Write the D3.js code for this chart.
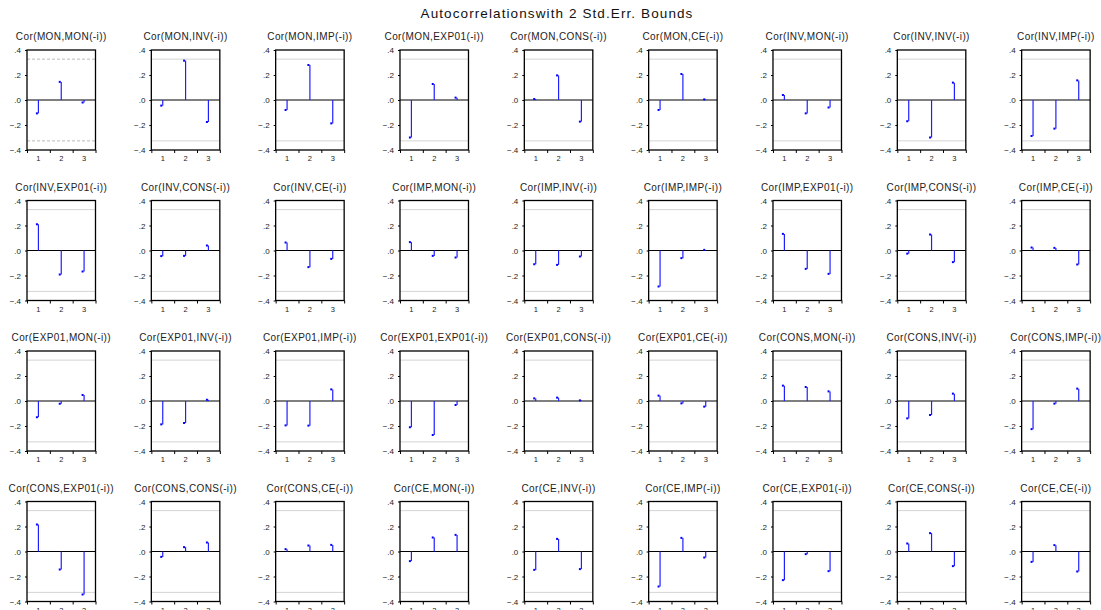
<!DOCTYPE html>
<html><head><meta charset="utf-8">
<script src="https://cdn.jsdelivr.net/npm/d3@7"></script>
<style>body{margin:0;background:#fff}svg{display:block}text{font-family:"Liberation Sans",Arial,sans-serif}</style>
</head><body><svg id="c" width="1101" height="610"></svg>
<script>
const variables = ["MON","INV","IMP","EXP01","CONS","CE"];
const lags = [1,2,3];
const yTicks = [0.4,0.2,0,-0.2,-0.4];
const bound = 0.327;
// correlations Cor(row, col(-i)) for lags 1..3
const corMON   = [[-0.107,0.145,-0.020],[-0.045,0.315,-0.176],[-0.080,0.280,-0.187],[-0.300,0.128,0.019],[0.008,0.197,-0.173],[-0.080,0.208,0.005]];
const corINV   = [[0.040,-0.107,-0.060],[-0.170,-0.300,0.139],[-0.288,-0.229,0.157],[0.210,-0.192,-0.168],[-0.045,-0.043,0.040],[0.064,-0.133,-0.067]];
const corIMP   = [[0.067,-0.043,-0.056],[-0.110,-0.115,-0.048],[-0.288,-0.061,0.005],[0.133,-0.147,-0.187],[-0.025,0.128,-0.093],[0.024,0.021,-0.112]];
const corEXP01 = [[-0.130,-0.022,0.048],[-0.187,-0.176,0.010],[-0.195,-0.197,0.093],[-0.210,-0.272,-0.032],[0.021,0.027,0.005],[0.043,-0.019,-0.045]];
const corCONS  = [[0.123,0.112,0.077],[-0.139,-0.112,0.059],[-0.225,-0.021,0.099],[0.216,-0.144,-0.344],[-0.043,0.035,0.072],[0.019,0.048,0.053]];
const corCE    = [[-0.077,0.112,0.133],[-0.147,0.101,-0.141],[-0.280,0.109,-0.048],[-0.229,-0.021,-0.157],[0.064,0.147,-0.117],[-0.083,0.051,-0.160]];
const corAll = [corMON,corINV,corIMP,corEXP01,corCONS,corCE];

const svg = d3.select("#c");
svg.append("text").attr("x",557).attr("y",18).attr("text-anchor","middle")
  .attr("font-size",13.5).attr("letter-spacing",1.1).attr("fill","#111").text("Autocorrelationswith 2 Std.Err. Bounds");

const pw = 68.5, ph = 100, colStep = 124.33, rowStep = 150.5, x0 = 27, y0 = 50;
const panels = [];
variables.forEach((a,i)=>variables.forEach((b,j)=>panels.push({a,b,vals:corAll[i][j]})));

panels.forEach((p,k)=>{
  const col = k%9, row = Math.floor(k/9);
  const g = svg.append("g").attr("transform",`translate(${x0+col*colStep},${y0+row*rowStep})`);
  const x = d3.scaleLinear().domain([0.5,3.5]).range([0,pw]);
  const y = d3.scaleLinear().domain([-0.4,0.4]).range([ph,0]);
  g.append("text").attr("x",pw/2).attr("y",-10).attr("text-anchor","middle")
    .attr("font-size",10).attr("letter-spacing",0.4).attr("fill","#222").text(`Cor(${p.a},${p.b}(-i))`);
  // bounds
  [bound,-bound].forEach(v=>g.append("line").attr("x1",0).attr("x2",pw)
    .attr("y1",y(v)).attr("y2",y(v)).attr("stroke",k===0?"#bbb":"#d4d4d4")
    .attr("stroke-width",1).attr("stroke-dasharray",k===0?"3,2":null));
  // y axis
  const ya = g.append("g").call(d3.axisLeft(y).tickValues(yTicks).tickSize(2)
    .tickFormat(d=>d===0?".0":d3.format(".1f")(d).replace("0.",".")));
  ya.select(".domain").remove();
  ya.selectAll("line").attr("stroke","#000");
  ya.selectAll("text").attr("font-size",8).attr("font-family","Liberation Sans, Arial, sans-serif").attr("fill","#222").attr("dx",-1);
  // x axis
  const xa = g.append("g").attr("transform",`translate(0,${ph})`)
    .call(d3.axisBottom(x).tickValues([0.5,1.5,2.5,3.5]).tickSize(3).tickFormat(""));
  xa.select(".domain").remove();
  xa.selectAll("line").attr("stroke","#000");
  g.append("g").attr("transform",`translate(0,${ph})`).selectAll("text").data(lags).join("text")
    .attr("x",d=>x(d)).attr("y",11).attr("text-anchor","middle").attr("font-size",7.5).attr("fill","#222").text(d=>d);
  // zero line
  g.append("line").attr("x1",0).attr("x2",pw).attr("y1",y(0)).attr("y2",y(0)).attr("stroke","#000").attr("stroke-width",1);
  // stems
  g.selectAll(".stem").data(p.vals).join("line").attr("class","stem")
    .attr("x1",(d,i)=>x(lags[i])).attr("x2",(d,i)=>x(lags[i]))
    .attr("y1",y(0)).attr("y2",d=>y(d)).attr("stroke","#2020ff").attr("stroke-width",1.2);
  g.selectAll(".tip").data(p.vals).join("rect").attr("class","tip")
    .attr("x",(d,i)=>x(lags[i])-2.5).attr("y",d=>y(d)-1).attr("width",2).attr("height",2).attr("fill","#0000ff");
  // frame
  g.append("rect").attr("width",pw).attr("height",ph).attr("fill","none").attr("stroke","#000").attr("stroke-width",1.3);
});
</script></body></html>
